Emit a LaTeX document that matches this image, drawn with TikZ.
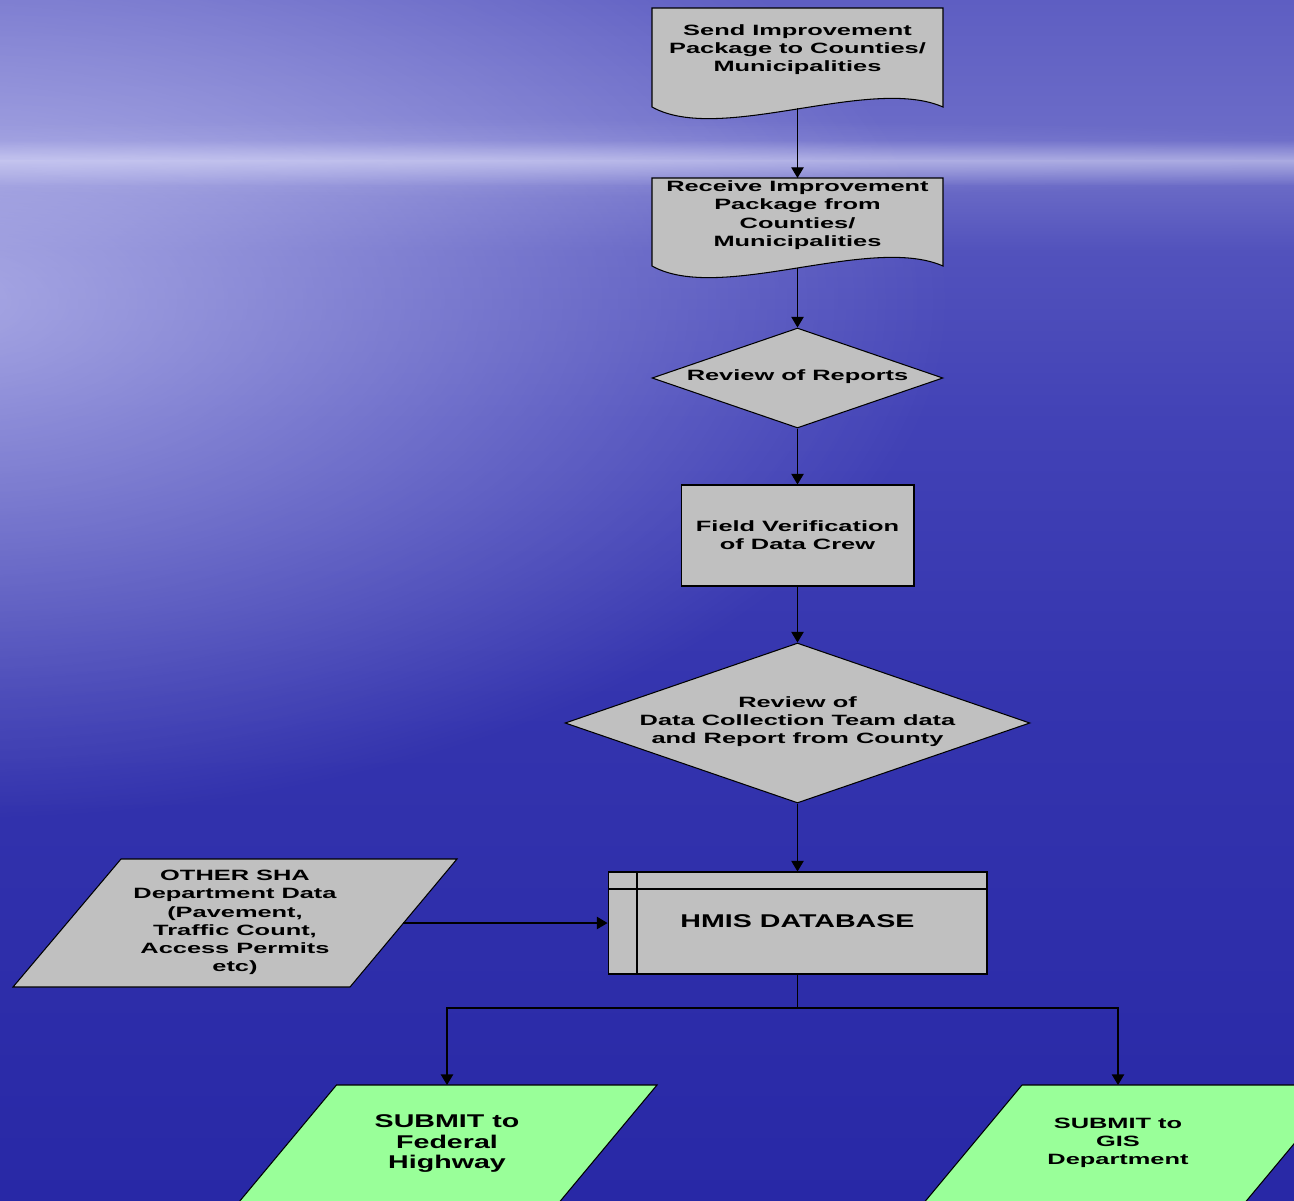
\documentclass[tikz,border=0pt]{standalone}
\usepackage{fontspec}
\setmainfont{Liberation Sans}
\newfontfamily\wf{Liberation Sans}[FakeStretch=1.7]
\newfontfamily\wfb{Liberation Sans}[FakeStretch=1.55]
\usetikzlibrary{shapes.geometric,arrows.meta,fadings}
\tikzfading[name=glowfade, inner color=transparent!0, outer color=transparent!100]
\definecolor{boxgray}{HTML}{C0C0C0}
\definecolor{boxgreen}{HTML}{99FF99}
\definecolor{glow}{HTML}{E2E2FF}
\definecolor{bgA}{HTML}{5E5EC2}
\definecolor{bgB}{HTML}{6C6CC8}
\definecolor{bgC}{HTML}{A8A8E0}
\definecolor{bgD}{HTML}{6A6AC6}
\definecolor{bgE}{HTML}{5252BC}
\definecolor{bgF}{HTML}{4242B6}
\definecolor{bgG}{HTML}{3434AE}
\definecolor{bgH}{HTML}{2828A6}
\begin{document}
\begin{tikzpicture}[x=0.02cm,y=-0.02cm,
  txt/.style={font=\wf\bfseries\fontsize{8.5}{10.4}\selectfont, align=center, text=black, inner sep=0pt},
  bigtxt/.style={font=\wfb\bfseries\fontsize{10.5}{11.7}\selectfont, align=center, text=black, inner sep=0pt},
  box/.style={draw=black, fill=boxgray, line width=0.6pt},
  gbox/.style={draw=black, fill=boxgreen, line width=0.6pt},
  dia/.style={box, diamond, inner sep=0pt},
  arr/.style={draw=black, line width=0.6pt, -{Triangle[width=7pt,length=6pt]}}]
\useasboundingbox (0,0) rectangle (1294,1200);
\clip (0,0) rectangle (1294,1200);
% background
\shade[top color=bgA, bottom color=bgB] (0,0) rectangle (1294,141);
\shade[top color=bgB, bottom color=bgC] (0,140) rectangle (1294,161);
\shade[top color=bgC, bottom color=bgD] (0,160) rectangle (1294,186);
\shade[top color=bgD, bottom color=bgE] (0,185) rectangle (1294,251);
\shade[top color=bgE, bottom color=bgF] (0,250) rectangle (1294,421);
\shade[top color=bgF, bottom color=bgG] (0,420) rectangle (1294,701);
\shade[top color=bgG, bottom color=bgH] (0,700) rectangle (1294,1200);
\fill[glow, opacity=0.6, path fading=glowfade] (-50,300) ellipse [x radius=1000, y radius=520];
\fill[glow, opacity=0.18, path fading=glowfade] (500,158) ellipse [x radius=1100, y radius=40];

% document shapes
\path[box] (652,8) -- (943,8) -- (943,107) .. controls (870,75) and (720,145) .. (652,107) -- cycle;
\node[txt] (send) at (797.5,49.5) {Send Improvement\\Package to Counties/\\Municipalities};
\coordinate (sendb) at (797.5,108);

\path[box] (652,178) -- (943,178) -- (943,266) .. controls (870,234) and (720,304) .. (652,266) -- cycle;
\node[txt] (recv) at (797.5,215) {Receive Improvement\\Package from\\Counties/\\Municipalities};
\coordinate (recvt) at (797.5,178);
\coordinate (recvb) at (797.5,268);

% decisions and process
\node[dia, minimum width=5.82cm, minimum height=2cm] (rev1) at (797.5,378) {};
\node[txt] (rev1t) at (797.5,377) {Review of Reports};

\node[box, minimum width=4.66cm, minimum height=2.02cm, txt] (field) at (797.5,535.5) {Field Verification\\of Data Crew};

\node[dia, minimum width=9.3cm, minimum height=3.2cm] (rev2) at (797.5,723) {};
\node[txt] (rev2t) at (797.5,721.5) {Review of\\Data Collection Team data\\and Report from County};

% database
\node[box, minimum width=7.58cm, minimum height=2.04cm] (hmis) at (797.5,923) {};
\draw[line width=0.6pt] (637,872) -- (637,974);
\draw[line width=0.6pt] (608,889) -- (987,889);
\node[bigtxt] (hmist) at (797.5,921) {HMIS DATABASE};

% other data
\path[box] (121,859) -- (457,859) -- (350,987) -- (13,987) -- cycle;
\node[txt] (other) at (235,922.5) {OTHER SHA\\Department Data\\(Pavement,\\Traffic Count,\\Access Permits\\etc)};
\coordinate (otherr) at (403,923);

% outputs
\path[gbox] (336.5,1085) -- (657,1085) -- (557,1205) -- (236.5,1205) -- cycle;
\node[bigtxt] (fed) at (447,1143.5) {SUBMIT to\\Federal\\Highway};
\coordinate (fedt) at (447,1085);

\path[gbox] (1022,1085) -- (1343,1085) -- (1243,1205) -- (922,1205) -- cycle;
\node[txt] (gis) at (1118,1143) {SUBMIT to\\GIS\\Department};
\coordinate (gist) at (1118,1085);

% connectors
\draw[arr] (sendb) -- (recvt);
\draw[arr] (recvb) -- (rev1.north);
\draw[arr] (rev1.south) -- (field.north);
\draw[arr] (field.south) -- (rev2.north);
\draw[arr] (rev2.south) -- (hmis.north);
\draw[arr] (otherr) -- (hmis.west);
\coordinate (split) at (797.5,1008);
\draw[line width=0.6pt] (hmis.south) -- (split);
\draw[arr] (split) -| (fedt);
\draw[arr] (split) -| (gist);
\end{tikzpicture}
\end{document}
